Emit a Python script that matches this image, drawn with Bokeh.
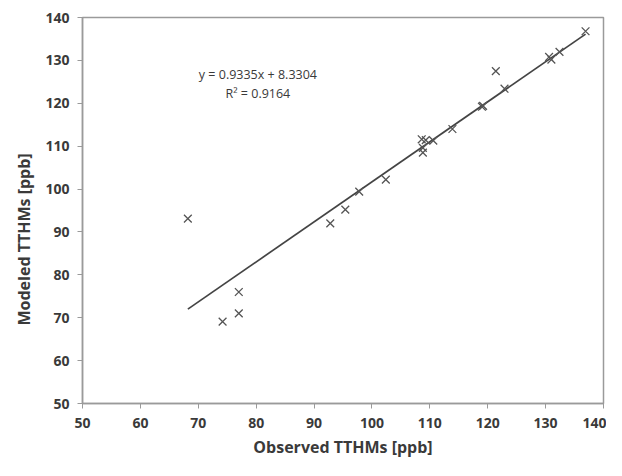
from bokeh.plotting import figure
from bokeh.models import Label, Range1d, FixedTicker, Title
from bokeh.embed import file_html
from bokeh.resources import INLINE

# Observed vs modeled TTHMs [ppb]
observed = [68.2, 74.2, 77.0, 77.0, 92.8, 95.4, 97.8, 102.4,
            108.6, 109.3, 108.8, 108.8, 110.6, 113.9, 119.0, 119.2,
            121.4, 122.9, 130.6, 131.0, 132.4, 136.9]
modeled = [93.1, 69.1, 76.0, 71.0, 92.0, 95.2, 99.4, 102.2,
           111.6, 111.4, 109.6, 108.5, 111.3, 114.0, 119.2, 119.4,
           127.5, 123.4, 130.8, 130.2, 132.0, 136.8]
slope = 0.9335
intercept = 8.3304
eq_text = "y = 0.9335x + 8.3304"
r2_text = "R\u00b2 = 0.9164"
ticks = [50, 60, 70, 80, 90, 100, 110, 120, 130, 140]
x_title = "Observed TTHMs [ppb]"
y_title = "Modeled TTHMs [ppb]"

FONT = "Open Sans"
TXT = "#3a3a3a"

p = figure(width=606, height=460, output_backend="svg", toolbar_location=None,
           x_range=Range1d(50, 140), y_range=Range1d(50, 140),
           min_border_left=82, min_border_right=3, min_border_top=17, min_border_bottom=51)

p.xgrid.visible = False
p.ygrid.visible = False
p.outline_line_color = "#9a9a9a"
p.outline_line_width = 1.5

for ax in (p.xaxis[0], p.yaxis[0]):
    ax.ticker = FixedTicker(ticks=ticks)
    ax.axis_line_color = "#9a9a9a"
    ax.axis_line_width = 1.5
    ax.major_tick_line_color = "#9a9a9a"
    ax.major_tick_in = 0
    ax.major_tick_out = 5
    ax.minor_tick_line_color = None
    ax.major_label_text_font = FONT
    ax.major_label_text_font_style = "bold"
    ax.major_label_text_font_size = "14px"
    ax.major_label_text_color = TXT
    ax.axis_label_text_font = FONT
    ax.axis_label_text_font_style = "bold"
    ax.axis_label_text_font_size = "16px"
    ax.axis_label_text_color = TXT

p.xaxis.axis_label = x_title
p.xaxis.major_label_standoff = 9
p.yaxis.major_label_standoff = 8
p.xaxis.axis_label_standoff = 5

# y-axis title, centred on the whole chart area as in the original
p.add_layout(Title(text=y_title, align="left", offset=78, standoff=16,
                   text_font=FONT, text_font_style="bold", text_font_size="16px",
                   text_color=TXT), "left")

# linear trendline across the observed range
x0, x1 = min(observed), max(observed)
p.line([x0, x1], [slope * x0 + intercept, slope * x1 + intercept],
       line_color="#444444", line_width=1.7)

p.scatter(observed, modeled, marker="x", size=11, line_color="#555555", line_width=1.3)

for txt, yv in ((eq_text, 126.8), (r2_text, 122.3)):
    p.add_layout(Label(x=80.3, y=yv, text=txt, text_align="center", text_baseline="middle",
                       text_font=FONT, text_font_size="12.5px", text_color=TXT))

open("out.html", "w").write(file_html(p, INLINE))
